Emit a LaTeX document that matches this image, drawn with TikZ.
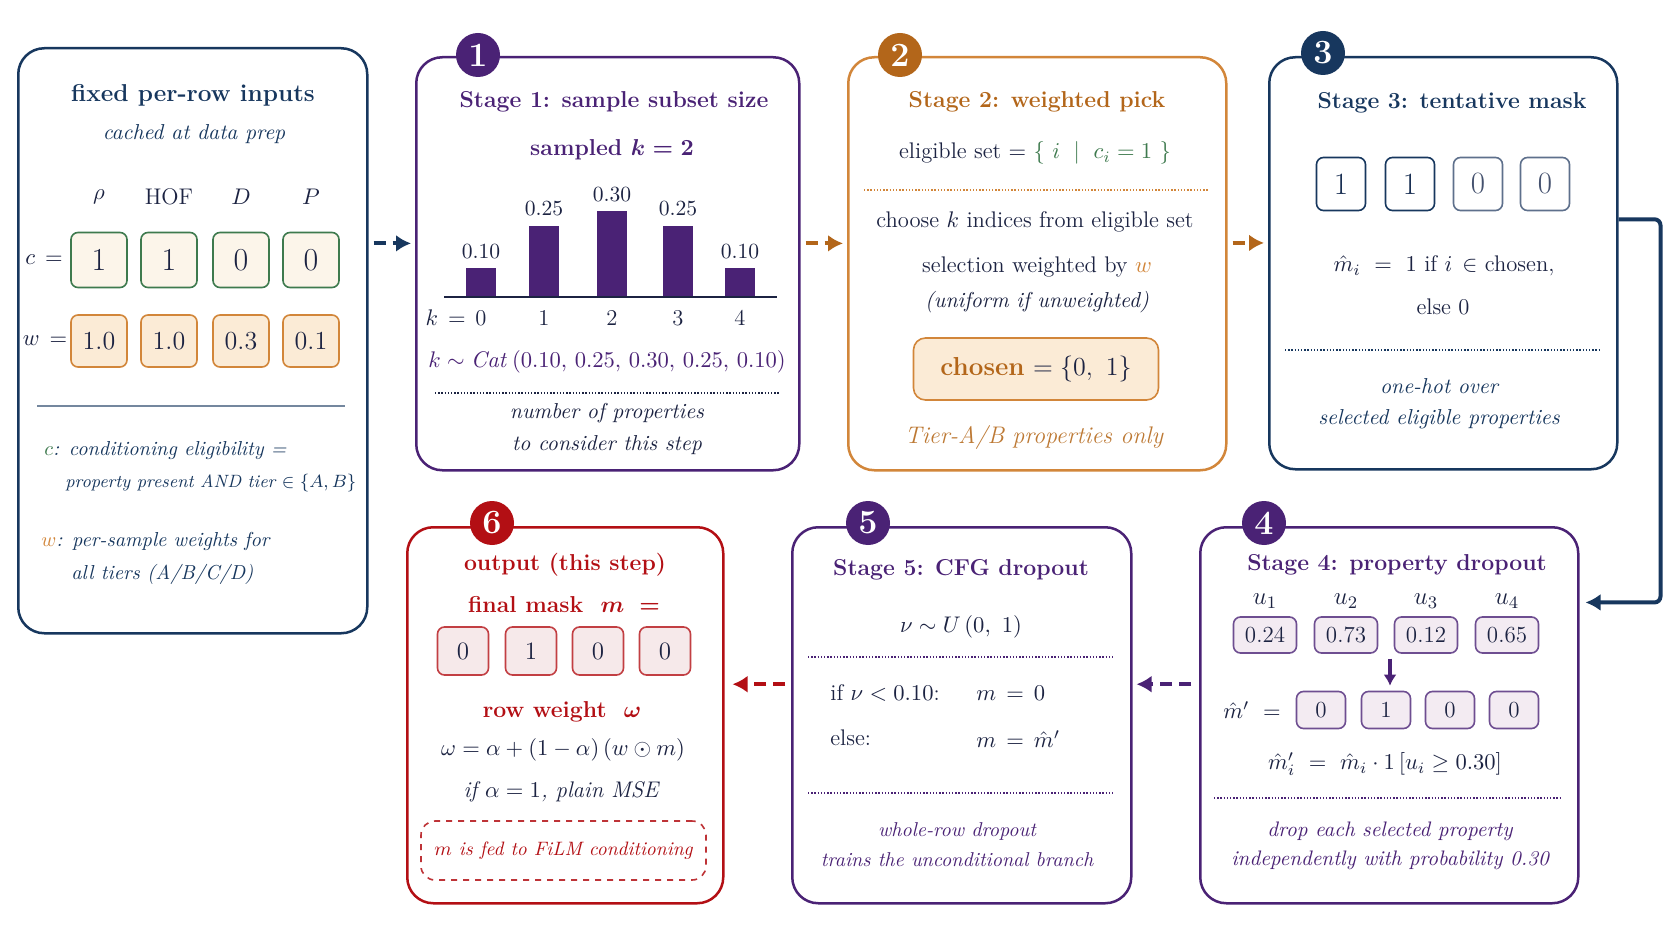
\RequirePackage{fix-cm}
\documentclass[tikz,border=0pt]{standalone}
\usepackage{amsmath}
\usetikzlibrary{
  arrows.meta,
  calc
}
\definecolor{navy}{HTML}{17375E}
\definecolor{ink}{HTML}{1C2342}
\definecolor{slate}{HTML}{5E708C}
\definecolor{plum}{HTML}{4A2275}
\definecolor{bronze}{HTML}{B3661A}
\definecolor{amber}{HTML}{D2863A}
\definecolor{crimson}{HTML}{B30F14}
\definecolor{leaf}{HTML}{3E7A4E}
\definecolor{peach}{HTML}{FBEBD6}
\definecolor{cream}{HTML}{FCF5EA}
\definecolor{lilac}{HTML}{F3EBF2}
\definecolor{rose}{HTML}{F6E9EA}

\begin{document}
\begin{tikzpicture}[
  x=0.5pt, y=-0.5pt,
  >=Latex,
  font=\fontsize{11.3}{13.5}\selectfont,
  every node/.style={text=ink, inner sep=1.5pt},
  stage/.style={draw=#1, fill=white, line width=1.25pt, rounded corners=13pt,
    anchor=north west, inner sep=0pt},
  badge/.style={circle, fill=#1, text=white, minimum size=22pt, inner sep=0pt,
    font=\fontsize{17}{17}\selectfont\bfseries},
  cell/.style 2 args={draw=#1, fill=#2, rounded corners=3.5pt, line width=0.8pt,
    inner sep=0pt},
  heading/.style={font=\fontsize{11.5}{14}\selectfont\bfseries},
  note/.style={font=\fontsize{10.8}{13}\selectfont\itshape},
  sidenote/.style={font=\fontsize{10.1}{12}\selectfont\itshape, anchor=west, text=navy},
  rule/.style={draw=#1, line width=0.7pt, dash pattern=on 0.7pt off 0.9pt},
  flow/.style={draw=#1, line width=2pt, dash pattern=on 6pt off 3.5pt,
    -{Latex[length=7.5pt,width=8.5pt]}, shorten <=2.5pt, shorten >=2pt},
]
\useasboundingbox[fill=white] (0,0) rectangle (1671,941);

% the six panels
\node[stage=navy, minimum width=174.5pt, minimum height=292.5pt] (inputs) at (17,47) {};
\node[stage=plum, minimum width=191.5pt, minimum height=206.5pt] (sub) at (415,56) {};
\node[stage=amber, minimum width=189pt, minimum height=206.5pt] (pick) at (847,56) {};
\node[stage=navy, minimum width=174pt, minimum height=206pt] (mask) at (1268,56) {};
\node[stage=plum, minimum width=189pt, minimum height=188pt] (drop) at (1199,526) {};
\node[stage=plum, minimum width=169.5pt, minimum height=188pt] (cfg) at (791,526) {};
\node[stage=crimson, minimum width=158pt, minimum height=188pt] (out) at (406,526) {};

\node[badge=plum] (b1) at (478,55) {1};
\node[badge=bronze] (b2) at (900,55) {2};
\node[badge=navy] (b3) at (1323,53) {3};
\node[badge=plum] (b4) at (1264,523) {4};
\node[badge=plum] (b5) at (868,523) {5};
\node[badge=crimson] (b6) at (492,523) {6};

% inputs
\node[heading, text=navy, font=\fontsize{12.2}{14}\selectfont\bfseries] (inTitle) at (193,95) {fixed per-row inputs};
\node[note, text=navy] (inSub) at (194,134) {cached at data prep};
\foreach \x/\h [count=\i] in {99/$\rho$,169/HOF,241/$D$,311/$P$}
  \node (hd\i) at (\x,197) {\h};
\node (cEq) at (44,260) {$c\,=$};
\node (wEq) at (45,341) {$w\,=$};
\foreach \x/\v [count=\i] in {99/1,169/1,241/0,311/0}
  \node[cell={leaf}{cream}, minimum width=28pt, minimum height=27.5pt,
    font=\fontsize{16}{16}\selectfont] (c\i) at (\x,260) {\v};
\foreach \x/\v [count=\i] in {99/1.0,169/1.0,241/0.3,311/0.1}
  \node[cell={amber}{peach}, minimum width=28pt, minimum height=26pt,
    font=\fontsize{13}{14}\selectfont] (w\i) at (\x,341) {\v};
\draw[navy!60, line width=0.7pt] (37,406) -- (345,406);
\node[sidenote] (cNote) at (41,451) {{\color{leaf}$c$}: conditioning eligibility =};
\node[sidenote, font=\fontsize{8.9}{11}\selectfont\itshape] (cNote2) at (62,483) {property present AND tier $\in\{A,B\}$};
\node[sidenote] (wNote) at (38,541) {{\color{amber}$w$}: per-sample weights for};
\node[sidenote] (wNote2) at (68,574) {all tiers (A/B/C/D)};

% stage 1
\node[heading, text=plum] (t1) at (614,102) {Stage 1: sample subset size};
\node[heading, text=plum] (kSamp) at (612,150) {sampled $\boldsymbol{k=2}$};
\foreach \x/\p [count=\i from 0] in {481/0.10,544/0.25,612/0.30,678/0.25,740/0.10} {
  \fill[plum] (\x-15,297) rectangle (\x+15,297-285*\p);
  \node[font=\fontsize{10.8}{12}\selectfont] (pv\i) at (\x,297-285*\p-17) {\p};
  \node (kv\i) at (\x,318) {\i};
}
\draw[ink, line width=0.9pt] (444,297) -- (777,297);
\node[anchor=east] (kEq) at (469,318) {$k\,=$};
\node[text=plum] (cat) at (607,362) {$k \sim \mathit{Cat}\,(0.10,\,0.25,\,0.30,\,0.25,\,0.10)$};
\draw[rule=ink] (435,393) -- (780,393);
\node[note] (n1a) at (607,413) {number of properties};
\node[note] (n1b) at (607,445) {to consider this step};

% stage 2
\node[heading, text=bronze] (t2) at (1037,102) {Stage 2: weighted pick};
\node (elig) at (1035,153) {eligible set $=$ {\color{leaf}$\{\ i\ \mid\ c_i = 1\ \}$}};
\draw[rule=amber] (864,190) -- (1208,190);
\node (choose) at (1035,222) {choose $k$ indices from eligible set};
\node (selw) at (1037,267) {selection weighted by {\color{amber}$w$}};
\node[note] (unif) at (1037,302) {(uniform if unweighted)};
\node[cell={amber}{peach}, minimum width=122.5pt, minimum height=31pt, rounded corners=6pt,
  font=\fontsize{13}{15}\selectfont] (chosen) at (1036,369) {{\bfseries\color{bronze}chosen} $=\{0,\ 1\}$};
\node[note, text=amber!90!black, font=\fontsize{12}{14}\selectfont\itshape] (tierAB) at (1034,437) {Tier-A/B properties only};

% stage 3
\node[heading, text=navy] (t3) at (1452,103) {Stage 3: tentative mask};
\foreach \x/\v/\c [count=\i] in {1341/1/navy,1410/1/navy,1478/0/slate,1545/0/slate}
  \node[cell={\c}{white}, minimum width=24.5pt, minimum height=26.5pt, text=\c!60!ink,
    font=\fontsize{15.5}{15.5}\selectfont] (mh\i) at (\x,184) {\v};
\node (mrule) at (1444,266) {$\hat{m}_i\ =\ 1$ if $i\,\in$ chosen,};
\node (melse) at (1443,307) {else 0};
\draw[rule=navy] (1285,350) -- (1600,350);
\node[note, text=navy] (n3a) at (1439,386) {one-hot over};
\node[note, text=navy] (n3b) at (1439,419) {selected eligible properties};

% stage 4
\node[heading, text=plum] (t4) at (1397,565) {Stage 4: property dropout};
\foreach \x/\v [count=\i] in {1265/0.24,1346/0.73,1426/0.12,1507/0.65} {
  \node[font=\fontsize{12.5}{14}\selectfont, inner sep=0pt] (u\i) at (\x,601) {$u_\i$};
  \node[cell={plum!80}{lilac}, minimum width=31.5pt, minimum height=18pt,
    font=\fontsize{11.5}{13}\selectfont] (uv\i) at (\x,635) {\v};
}
\node[inner sep=0pt] (mpEq) at (1252,710) {$\hat{m}'\ =$};
\foreach \x/\v [count=\i] in {1321/0,1386/1,1450/0,1514/0}
  \node[cell={plum!80}{lilac}, minimum width=24.5pt, minimum height=18.5pt,
    font=\fontsize{11.5}{13}\selectfont] (mp\i) at (\x,710) {\v};
\draw[plum, line width=1.6pt, -{Latex[length=5.5pt,width=6.5pt]}, shorten >=2.5pt]
  ([xshift=2pt,yshift=16pt]mp2.north) -- ([xshift=2pt]mp2.north);
\node[inner sep=0pt] (mpRule) at (1385,764) {$\hat{m}'_i\ =\ \hat{m}_i \cdot 1\,[u_i \geq 0.30]$};
\draw[rule=plum] (1214,798) -- (1560,798);
\node[note, text=plum, font=\fontsize{10.5}{13}\selectfont\itshape] (n4a) at (1390,831) {drop each selected property};
\node[note, text=plum, font=\fontsize{10.5}{13}\selectfont\itshape] (n4b) at (1390,860) {independently with probability 0.30};

% stage 5
\node[heading, text=plum] (t5) at (961,570) {Stage 5: CFG dropout};
\node (nu) at (961,627) {$\nu \sim U\,(0,\ 1)$};
\draw[rule=plum] (808,657) -- (1114,657);
\node[anchor=west, inner sep=0pt] (ifNu) at (830,693) {if $\nu < 0.10$:};
\node[anchor=west, inner sep=0pt] (mZero) at (976,693) {$m\,=\,0$};
\node[anchor=west, inner sep=0pt] (elseNu) at (830,738) {else:};
\node[anchor=west, inner sep=0pt] (mKeep) at (976,739) {$m\,=\,\hat{m}'$};
\draw[rule=plum] (808,793) -- (1114,793);
\node[note, text=plum, font=\fontsize{10}{12}\selectfont\itshape] (n5a) at (957,831) {whole-row dropout};
\node[note, text=plum, font=\fontsize{10}{12}\selectfont\itshape] (n5b) at (957,860) {trains the unconditional branch};

% output
\node[heading, text=crimson] (t6) at (565,565) {output (this step)};
\node[heading, text=crimson] (fm) at (564,605) {final mask\ \ $\boldsymbol{m}\ \boldsymbol{=}$};
\foreach \x/\v [count=\i] in {463/0,531/1,598/0,665/0}
  \node[cell={crimson!80}{rose}, minimum width=25.5pt, minimum height=24pt,
    font=\fontsize{12.5}{14}\selectfont] (m\i) at (\x,651) {\v};
\node[heading, text=crimson] (rw) at (562,712) {row weight\ \ $\boldsymbol{\omega}$};
\node (omega) at (563,750) {$\omega = \alpha + (1-\alpha)\,(w \odot m)$};
\node[note, font=\fontsize{11.3}{13}\selectfont\itshape] (mse) at (561,792) {if $\alpha = 1$, plain MSE};
\node[draw=crimson!85, dashed, line width=0.8pt, rounded corners=7pt, minimum width=142.5pt,
  minimum height=29.5pt, text=crimson, font=\fontsize{9.7}{12}\selectfont\itshape] (film) at (563.5,850.5) {$m$ is fed to FiLM conditioning};

% connectors
\coordinate (in1) at ($(sub.north west)!0.451!(sub.south west)$);
\coordinate (in2) at ($(pick.north west)!0.451!(pick.south west)$);
\coordinate (in3) at ($(mask.north west)!0.451!(mask.south west)$);
\coordinate (out3) at ($(mask.north east)!0.394!(mask.south east)$);
\coordinate (in4) at ($(drop.north east)!0.202!(drop.south east)$);
\coordinate (in5) at ($(cfg.north east)!0.418!(cfg.south east)$);
\coordinate (in6) at ($(out.north east)!0.418!(out.south east)$);
\draw[flow=navy] (inputs.east |- in1) -- (in1);
\draw[flow=bronze] (sub.east |- in2) -- (in2);
\draw[flow=bronze] (pick.east |- in3) -- (in3);
\draw[navy, line width=2pt, rounded corners=3pt, -{Latex[length=7.5pt,width=8.5pt]}, shorten >=3pt]
  (out3) -- ++(42,0) |- (in4);
\draw[flow=plum, shorten <=4pt] (drop.west |- in5) -- (in5);
\draw[flow=crimson, shorten <=3pt, shorten >=4pt] (cfg.west |- in6) -- (in6);
\end{tikzpicture}
\end{document}
